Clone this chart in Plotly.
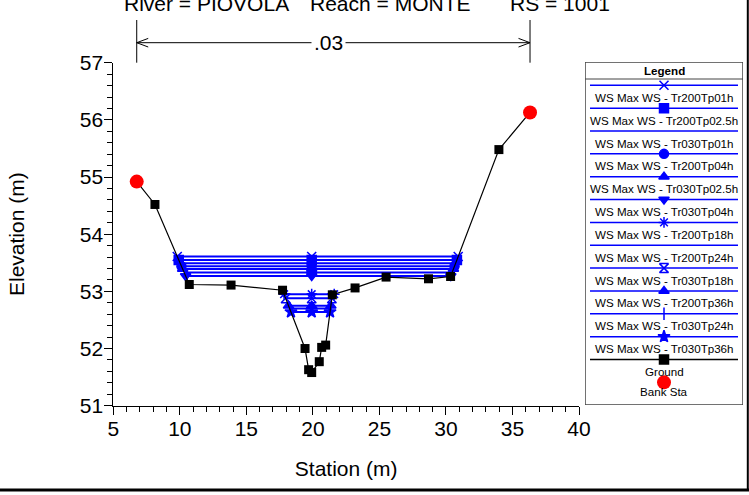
import numpy as np
import plotly.graph_objects as go

W, H = 749, 495

# ---------------- data ----------------
ground_station = [6.76, 8.13, 10.71, 13.85, 17.72, 19.41, 19.68, 19.91, 20.48,
                  20.66, 20.96, 21.46, 23.17, 25.50, 28.69, 30.35, 33.98, 36.32]
ground_elev = [54.92, 54.52, 53.12, 53.11, 53.02, 52.00, 51.63, 51.58, 51.77,
               52.02, 52.06, 52.94, 53.06, 53.25, 53.22, 53.26, 55.48, 56.13]
bank_station = [6.76, 36.32]
bank_elev = [54.92, 56.13]

profile_names = [
    "WS Max WS - Tr200Tp01h", "WS Max WS - Tr200Tp02.5h", "WS Max WS - Tr030Tp01h",
    "WS Max WS - Tr200Tp04h", "WS Max WS - Tr030Tp02.5h", "WS Max WS - Tr030Tp04h",
    "WS Max WS - Tr200Tp18h", "WS Max WS - Tr200Tp24h", "WS Max WS - Tr030Tp18h",
    "WS Max WS - Tr200Tp36h", "WS Max WS - Tr030Tp24h", "WS Max WS - Tr030Tp36h",
]
profile_ws = [53.61, 53.55, 53.49, 53.44, 53.39, 53.27,
              52.95, 53.33, 52.88, 52.75, 52.70, 52.64]
profile_symbols = ["x-thin-open", "square", None, "circle", "triangle-up", "triangle-down",
                   "asterisk-open", None, "hourglass-open", "triangle-up", "line-ns-open", "star"]

n_value = ".03"
title_parts = ["River = PIOVOLA", "Reach = MONTE", "RS = 1001"]
x_title = "Station (m)"
y_title = "Elevation (m)"
x_range = [5, 40]
y_range = [51, 57]

# ---------------- layout helpers (pixel -> paper) ----------------
def px(x):
    return x / W

def py(y):
    return (H - y) / H

PLOT_L, PLOT_R, PLOT_T, PLOT_B = 113.3, 579.0, 62.7, 405.7
LEG_L, LEG_R, LEG_T, LEG_B = 585, 743, 62, 405

FONT = "Arial, Liberation Sans, sans-serif"
BLUE = "#0000FF"

gs = np.array(ground_station)
ge = np.array(ground_elev)


def ws_extent(ws):
    k = int(np.argmin(ge))
    i = k
    while ge[i - 1] < ws:
        i -= 1
    xl = float(np.interp(ws, [ge[i], ge[i - 1]], [gs[i], gs[i - 1]]))
    j = k
    while ge[j + 1] < ws:
        j += 1
    xr = float(np.interp(ws, [ge[j], ge[j + 1]], [gs[j], gs[j + 1]]))
    return xl, float(gs[k]), xr


fig = go.Figure()

# water surfaces
for name, ws, sym in zip(profile_names, profile_ws, profile_symbols):
    xl, xm, xr = ws_extent(ws)
    mode = "lines+markers" if sym else "lines"
    fig.add_trace(go.Scatter(
        x=[xl, xm, xr], y=[ws, ws, ws], mode=mode, name=name,
        line=dict(color=BLUE, width=2),
        marker=dict(symbol=sym or "circle", size=9, color=BLUE,
                    line=dict(color=BLUE, width=1.5)),
        showlegend=False, cliponaxis=False))

# ground
fig.add_trace(go.Scatter(
    x=ground_station, y=ground_elev, mode="lines+markers", name="Ground",
    line=dict(color="black", width=1.2),
    marker=dict(symbol="square", size=9, color="black"),
    showlegend=False, cliponaxis=False))

# bank stations
fig.add_trace(go.Scatter(
    x=bank_station, y=bank_elev, mode="markers", name="Bank Sta",
    marker=dict(symbol="circle", size=14, color="#FF0000"),
    showlegend=False, cliponaxis=False))

# ---------------- custom legend (in its own pixel-scaled axes) ----------------
leg_line_y0 = 85.3
leg_step = 22.85
leg_x0, leg_x1, leg_xc = 590, 738, 664
leg_entries = list(zip(profile_names, profile_symbols, [BLUE] * len(profile_names))) + [("Ground", "square", "black")]

annotations = []
shapes = []
for i, (name, sym, col) in enumerate(leg_entries):
    ly = leg_line_y0 + i * leg_step
    fig.add_trace(go.Scatter(x=[leg_x0, leg_x1], y=[ly, ly], mode="lines",
                             line=dict(color=col, width=1.5),
                             xaxis="x2", yaxis="y2", showlegend=False, hoverinfo="skip"))
    if sym:
        fig.add_trace(go.Scatter(x=[leg_xc], y=[ly], mode="markers",
                                 marker=dict(symbol=sym, size=9, color=col,
                                             line=dict(color=col, width=1.5)),
                                 xaxis="x2", yaxis="y2", showlegend=False, hoverinfo="skip"))
    annotations.append(dict(x=leg_xc, y=ly + 12, xref="x2", yref="y2", text=name,
                            showarrow=False, font=dict(family=FONT, size=11.6, color="black"),
                            xanchor="center", yanchor="middle"))

bank_leg_y = leg_line_y0 + len(leg_entries) * leg_step
annotations.append(dict(x=leg_xc, y=bank_leg_y + 9.5, xref="x2", yref="y2", text="Bank Sta",
                        showarrow=False, font=dict(family=FONT, size=11.6, color="black"),
                        xanchor="center", yanchor="middle"))
fig.add_trace(go.Scatter(x=[leg_xc], y=[bank_leg_y], mode="markers",
                         marker=dict(symbol="circle", size=14, color="#FF0000"),
                         xaxis="x2", yaxis="y2", showlegend=False, hoverinfo="skip"))

annotations.append(dict(x=leg_xc, y=70.5, xref="x2", yref="y2", text="<b>Legend</b>",
                        showarrow=False, font=dict(family=FONT, size=11.6, color="black"),
                        xanchor="center", yanchor="middle"))
shapes.append(dict(type="rect", xref="x2", yref="y2", x0=LEG_L, x1=LEG_R, y0=LEG_T, y1=LEG_B,
                   line=dict(color="#444444", width=1.5), layer="below"))
shapes.append(dict(type="line", xref="x2", yref="y2", x0=LEG_L, x1=LEG_R, y0=79, y1=79,
                   line=dict(color="#444444", width=1)))

# ---------------- n-value dimension line ----------------
dim_y = py(42.7)
top_y = py(20)
shapes.append(dict(type="line", xref="x", yref="paper", x0=bank_station[0], x1=bank_station[1],
                   y0=dim_y, y1=dim_y, line=dict(color="black", width=1)))
for bx in bank_station:
    shapes.append(dict(type="line", xref="x", yref="paper", x0=bx, x1=bx,
                       y0=top_y, y1=py(PLOT_T), line=dict(color="black", width=1)))
ah_dx = 11.5 / ((PLOT_R - PLOT_L) / (x_range[1] - x_range[0]))
ah_dy = 4.3 / H
for bx, sgn in [(bank_station[0], 1), (bank_station[1], -1)]:
    shapes.append(dict(type="path", xref="x", yref="paper",
                       path=f"M {bx + sgn * ah_dx},{dim_y + ah_dy} L {bx},{dim_y} L {bx + sgn * ah_dx},{dim_y - ah_dy}",
                       line=dict(color="black", width=1)))
annotations.append(dict(x=(bank_station[0] + bank_station[1]) / 2 - 0.35, y=dim_y, xref="x", yref="paper",
                        text=n_value, showarrow=False, bgcolor="white",
                        font=dict(family=FONT, size=21, color="black"),
                        xanchor="center", yanchor="middle", borderpad=2))

# ---------------- clipped title ----------------
for txt, x0 in zip(title_parts, [121.7, 308, 508]):
    annotations.append(dict(x=px(x0), y=py(3.5), xref="paper", yref="paper", text=txt,
                            showarrow=False, font=dict(family=FONT, size=21, color="black"),
                            xanchor="left", yanchor="middle"))

# ---------------- outer frame lines ----------------
shapes.append(dict(type="line", xref="paper", yref="paper", x0=px(747.8), x1=px(747.8),
                   y0=py(0), y1=py(490), line=dict(color="black", width=2)))
shapes.append(dict(type="line", xref="paper", yref="paper", x0=0, x1=1,
                   y0=py(490), y1=py(490), line=dict(color="black", width=3)))

fig.update_layout(
    width=W, height=H,
    margin=dict(l=0, r=0, t=0, b=0, autoexpand=False),
    paper_bgcolor="white", plot_bgcolor="white",
    font=dict(family=FONT, size=21, color="black"),
    xaxis=dict(domain=[px(PLOT_L), px(PLOT_R)], range=x_range, dtick=5, tick0=0,
               showline=True, linecolor="black", linewidth=1, ticks="outside", ticklen=8,
               tickcolor="black", showgrid=False, zeroline=False, ticklabelstandoff=-4,
               minor=dict(dtick=1, ticks="outside", ticklen=5, tickcolor="black", showgrid=False),
               tickfont=dict(family=FONT, size=21, color="black"),
               title=dict(text=x_title, font=dict(family=FONT, size=21, color="black"), standoff=22),
               anchor="y", automargin=False),
    yaxis=dict(domain=[py(PLOT_B), py(PLOT_T)], range=y_range, dtick=1,
               showline=True, linecolor="black", linewidth=1, ticks="outside", ticklen=8,
               tickcolor="black", showgrid=False, zeroline=False, ticklabelstandoff=-3,
               minor=dict(dtick=0.2, ticks="outside", ticklen=5, tickcolor="black", showgrid=False),
               tickfont=dict(family=FONT, size=21, color="black"),
               title=dict(text=y_title, font=dict(family=FONT, size=21, color="black"), standoff=49),
               anchor="x", automargin=False),
    xaxis2=dict(domain=[px(LEG_L), px(LEG_R)], range=[LEG_L, LEG_R], visible=False,
                anchor="y2", fixedrange=True),
    yaxis2=dict(domain=[py(LEG_B), py(LEG_T)], range=[LEG_B, LEG_T], visible=False,
                anchor="x2", fixedrange=True),
    annotations=annotations,
    shapes=shapes,
)

fig.write_html("out.html", config={"displayModeBar": False},
               post_script="document.body.style.margin='0px';")
